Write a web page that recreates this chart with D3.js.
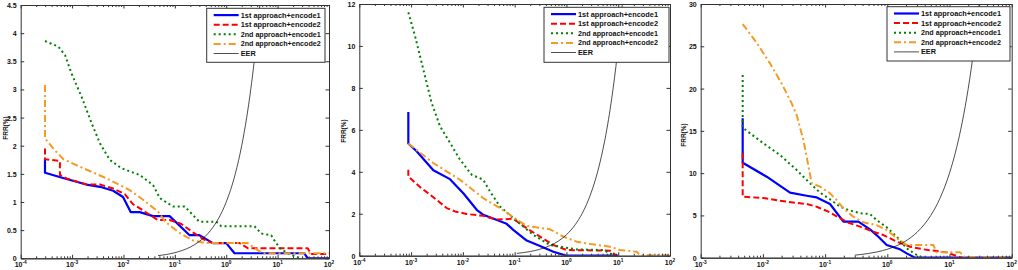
<!DOCTYPE html>
<html>
<head>
<meta charset="utf-8">
<script src="https://cdn.jsdelivr.net/npm/d3@7"></script>
<style>
  body { margin: 0; background: #fff; }
  svg { display: block; }
  text { font-family: "Liberation Sans", Arial, sans-serif; }
</style>
</head>
<body>
<svg id="chart" width="1018" height="270"></svg>
<script>
// legend labels
const seriesLabels = ["1st approach+encode1", "1st approach+encode2", "2nd approach+encode1", "2nd approach+encode2", "EER"];

// panel 1 (x: FAR, y: FRR %)
const p1Blue = [[2.97e-4,1.775],[2.97e-4,1.52],[7.8e-4,1.41],[1.9e-3,1.31],[3.5e-3,1.27],[6.3e-3,1.20],[9.8e-3,1.09],[0.0139,0.82],[0.0207,0.82],[0.0377,0.75],[0.079,0.75],[0.194,0.41],[0.30,0.41],[0.55,0.27],[1.0,0.27],[1.45,0.09],[33,0.09],[38.5,0],[100,0]];
const p1Red = [[2.97e-4,1.95],[2.97e-4,1.76],[5.8e-4,1.73],[5.8e-4,1.48],[7.8e-4,1.42],[1.9e-3,1.31],[3.5e-3,1.31],[6.3e-3,1.24],[0.0106,1.14],[0.0154,0.96],[0.0224,0.87],[0.0324,0.77],[0.047,0.68],[0.079,0.68],[0.134,0.61],[0.225,0.46],[0.41,0.31],[0.55,0.27],[1.82,0.27],[2.63,0.18],[38.5,0.18],[44.6,0.077],[100,0.077]];
const p1Green = [[2.97e-4,3.86],[5.4e-4,3.76],[7.3e-4,3.61],[9.8e-4,3.28],[1.53e-3,2.87],[2.4e-3,2.40],[3.5e-3,2.04],[5.4e-3,1.75],[9.1e-3,1.60],[0.0207,1.48],[0.0377,1.30],[0.051,1.07],[0.092,0.92],[0.155,0.92],[0.30,0.65],[0.64,0.65],[0.80,0.57],[3.55,0.57],[4.8,0.44],[7.5,0.41],[9.35,0.27],[11.7,0.16],[18.3,0.06],[28.6,0]];
const p1Orange = [[2.97e-4,3.08],[2.97e-4,2.13],[4.6e-4,1.92],[6.8e-4,1.76],[1.65e-3,1.60],[4.7e-3,1.42],[0.0133,1.21],[0.024,1.04],[0.047,0.83],[0.065,0.65],[0.12,0.46],[0.22,0.32],[0.4,0.27],[2.63,0.27],[3.55,0.18],[5.15,0.09],[100,0.09]];
const p1Eer = [[0.047,0.047],[0.1,0.1],[0.2,0.2],[0.3,0.3],[0.5,0.5],[0.7,0.7],[1,1],[1.5,1.5],[2,2],[2.5,2.5],[3,3],[3.5,3.5],[4,4],[4.5,4.5]];
const p1YTicks = [0, 0.5, 1, 1.5, 2, 2.5, 3, 3.5, 4, 4.5];

// panel 2
const p2Blue = [[8.85e-4,6.85],[8.85e-4,5.35],[1.28e-3,4.98],[2.69e-3,4.07],[5.64e-3,3.65],[0.0102,2.98],[0.0185,2.19],[0.0248,1.95],[0.070,1.52],[0.094,1.23],[0.171,0.72],[0.309,0.46],[0.56,0.19],[1.01,0],[10,0]];
const p2Red = [[8.85e-4,4.10],[8.85e-4,3.78],[1.49e-3,3.27],[2.69e-3,2.79],[4.87e-3,2.27],[7.05e-3,2.11],[0.0118,1.99],[0.0248,1.90],[0.045,1.72],[0.094,1.76],[0.171,1.31],[0.309,0.91],[0.56,0.51],[1.01,0.27],[6.95,0.24],[9.35,0]];
const p2Green = [[8.85e-4,11.6],[1.19e-3,10.48],[1.72e-3,8.89],[2.49e-3,7.29],[3.61e-3,6.18],[5.64e-3,5.38],[8.81e-3,4.58],[0.0148,3.86],[0.0248,3.62],[0.0334,3.06],[0.052,2.35],[0.094,1.79],[0.23,0.99],[0.48,0.51],[1.58,0.30],[5.16,0.27],[8.7,0]];
const p2Orange = [[8.85e-4,5.35],[2.69e-3,4.42],[8.81e-3,3.62],[0.0248,2.74],[0.052,2.27],[0.094,1.84],[0.171,1.42],[0.48,1.26],[0.87,0.91],[1.58,0.67],[2.86,0.56],[6.95,0.43],[10.8,0.27],[22.7,0.19],[26.4,0.02],[100,0.02]];
const p2Eer = [[0.11,0.11],[0.2,0.2],[0.3,0.3],[0.5,0.5],[0.7,0.7],[1,1],[1.5,1.5],[2,2],[3,3],[4,4],[5,5],[6,6],[7,7],[8,8],[9,9],[10,10],[11,11],[12,12]];
const p2YTicks = [0, 2, 4, 6, 8, 10, 12];

// panel 3
const p3Blue = [[4.73e-3,16.5],[4.73e-3,11.23],[0.0115,9.58],[0.0273,7.69],[0.0506,7.33],[0.0733,7.13],[0.12,6.35],[0.197,4.26],[0.343,4.26],[0.527,3.35],[0.718,2.48],[0.977,1.50],[1.6,0.99],[2.05,0.51],[2.79,0],[100,0]];
const p3Red = [[4.73e-3,12.34],[4.73e-3,7.21],[0.0102,7.06],[0.0242,6.62],[0.0506,6.35],[0.0733,6.03],[0.113,5.44],[0.163,4.77],[0.237,4.14],[0.364,3.67],[0.597,3.07],[0.866,2.68],[1.42,1.89],[2.32,1.30],[3.8,0.99],[9.0,0.63],[13.1,0.2],[15.7,0]];
const p3Green = [[4.73e-3,21.6],[4.73e-3,15.37],[0.0102,13.52],[0.0188,12.14],[0.0349,10.37],[0.0573,8.79],[0.083,7.69],[0.12,6.9],[0.174,6.03],[0.252,5.56],[0.388,5.24],[0.527,5.16],[0.675,4.45],[0.977,3.59],[1.42,2.48],[2.05,1.10],[2.97,0.32],[3.8,0]];
const p3Orange = [[4.73e-3,27.63],[7.94e-3,25.42],[0.013,22.98],[0.02,20.61],[0.029,18.25],[0.0349,16.87],[0.0448,13.91],[0.061,8.79],[0.083,8.4],[0.12,7.61],[0.153,6.82],[0.197,5.83],[0.284,4.85],[0.412,4.18],[0.675,3.86],[0.977,3.27],[1.5,2.17],[2.05,1.50],[5.5,1.5],[6.2,0.63],[14.8,0.63],[17.8,0.04],[100,0.04]];
const p3Eer = [[0.3,0.3],[0.5,0.5],[0.7,0.7],[1,1],[1.5,1.5],[2,2],[3,3],[4,4],[5,5],[7,7],[10,10],[13,13],[16,16],[20,20],[25,25],[30,30]];
const p3YTicks = [0, 5, 10, 15, 20, 25, 30];

// styles
const lineColors = ["#0000ff", "#ff0000", "#008000", "#f59a23", "#000000"];
const lineDash = [null, "6,3", "2,3", "7,3,2,3", null];
const lineWidths = [2.2, 2, 2, 2, 0.7];

const svg = d3.select("#chart");

const panels = [
    { id: 1, left: 20.7, right: 329, top: 5, bottom: 258.3, xDomain: [1e-4, 1e2], yDomain: [0, 4.5],
      yTicks: p1YTicks, series: [p1Blue, p1Red, p1Green, p1Orange, p1Eer],
      legend: { x: 206.7, y: 8.3, w: 118.3, h: 54 }, labelX: 7.5, labelY: 128 },
    { id: 2, left: 359.3, right: 670, top: 4, bottom: 255.7, xDomain: [1e-4, 1e2], yDomain: [0, 12],
      yTicks: p2YTicks, series: [p2Blue, p2Red, p2Green, p2Orange, p2Eer],
      legend: { x: 544, y: 7.3, w: 125, h: 55 }, labelX: 345.5, labelY: 131 },
    { id: 3, left: 700.7, right: 1011.7, top: 4, bottom: 257.7, xDomain: [1e-3, 1e2], yDomain: [0, 30],
      yTicks: p3YTicks, series: [p3Blue, p3Red, p3Green, p3Orange, p3Eer],
      legend: { x: 887, y: 6.7, w: 123, h: 54.3 }, labelX: 685.5, labelY: 135 }
];

panels.forEach(drawPanel);

function styleAxis(sel) {
    sel.select(".domain").attr("stroke", "#333");
    sel.selectAll(".tick line").attr("stroke", "#333");
    sel.attr("font-family", null).attr("font-size", null);
}

function drawPanel(cfg) {
    const g = svg.append("g");
    const x = d3.scaleLog().domain(cfg.xDomain).range([cfg.left, cfg.right]);
    const y = d3.scaleLinear().domain(cfg.yDomain).range([cfg.bottom, cfg.top]);

    const lo = Math.round(Math.log10(cfg.xDomain[0]));
    const hi = Math.round(Math.log10(cfg.xDomain[1]));
    const majors = d3.range(lo, hi + 1).map(e => Math.pow(10, e));
    const minors = d3.range(lo, hi).flatMap(e => d3.range(2, 10).map(k => k * Math.pow(10, e)));

    // clip for the curves
    g.append("clipPath").attr("id", "clip" + cfg.id)
        .append("rect")
        .attr("x", cfg.left).attr("y", cfg.top)
        .attr("width", cfg.right - cfg.left).attr("height", cfg.bottom - cfg.top);

    // curves
    const line = d3.line().x(d => x(d[0])).y(d => y(d[1]));
    const eerLine = d3.line().x(d => x(d[0])).y(d => y(d[1])).curve(d3.curveMonotoneX);
    const curves = g.append("g").attr("clip-path", `url(#clip${cfg.id})`);
    cfg.series.forEach((data, i) => {
        curves.append("path")
            .datum(data)
            .attr("d", i === 4 ? eerLine : line)
            .attr("fill", "none")
            .attr("stroke", lineColors[i])
            .attr("stroke-width", lineWidths[i])
            .attr("stroke-dasharray", lineDash[i])
            .attr("stroke-linejoin", "round");
    });

    // axes (ticks point inward on all four sides)
    const bottom = g.append("g").attr("transform", `translate(0,${cfg.bottom})`)
        .call(d3.axisBottom(x).tickValues(majors).tickSize(-3.5).tickSizeOuter(0).tickFormat(() => ""));
    bottom.selectAll(".tick text").remove();
    styleAxis(bottom);
    const bottomMinor = g.append("g").attr("transform", `translate(0,${cfg.bottom})`)
        .call(d3.axisBottom(x).tickValues(minors).tickSize(-2).tickSizeOuter(0).tickFormat(() => ""));
    bottomMinor.selectAll(".tick text").remove();
    styleAxis(bottomMinor);

    const top = g.append("g").attr("transform", `translate(0,${cfg.top})`)
        .call(d3.axisTop(x).tickValues(majors).tickSize(-3.5).tickSizeOuter(0).tickFormat(() => ""));
    top.selectAll(".tick text").remove();
    styleAxis(top);
    const topMinor = g.append("g").attr("transform", `translate(0,${cfg.top})`)
        .call(d3.axisTop(x).tickValues(minors).tickSize(-2).tickSizeOuter(0).tickFormat(() => ""));
    topMinor.selectAll(".tick text").remove();
    styleAxis(topMinor);

    const left = g.append("g").attr("transform", `translate(${cfg.left},0)`)
        .call(d3.axisLeft(y).tickValues(cfg.yTicks).tickSize(-3.5).tickSizeOuter(0).tickPadding(4).tickFormat(d => String(d)));
    styleAxis(left);
    left.selectAll(".tick text")
        .attr("font-size", 7).attr("font-weight", "bold").attr("fill", "#111")
        .attr("dy", "0.35em");

    const right = g.append("g").attr("transform", `translate(${cfg.right},0)`)
        .call(d3.axisRight(y).tickValues(cfg.yTicks).tickSize(-3.5).tickSizeOuter(0).tickFormat(() => ""));
    right.selectAll(".tick text").remove();
    styleAxis(right);

    // x tick labels: 10 with superscript exponent
    majors.forEach(v => {
        const t = g.append("text")
            .attr("x", x(v))
            .attr("y", cfg.bottom + 9)
            .attr("text-anchor", "middle")
            .attr("font-size", 7)
            .attr("font-weight", "bold")
            .attr("fill", "#111");
        t.append("tspan").text("10");
        t.append("tspan").attr("dy", -3.2).attr("font-size", 4.8).text(String(Math.round(Math.log10(v))));
    });

    // y label
    g.append("text")
        .attr("transform", `translate(${cfg.labelX},${cfg.labelY}) rotate(-90)`)
        .attr("text-anchor", "middle")
        .attr("font-size", 6.5)
        .attr("font-weight", "bold")
        .attr("fill", "#111")
        .text("FRR(%)");

    // legend
    const lg = g.append("g").attr("transform", `translate(${cfg.legend.x},${cfg.legend.y})`);
    lg.append("rect")
        .attr("width", cfg.legend.w).attr("height", cfg.legend.h)
        .attr("fill", "#fff").attr("stroke", "#333").attr("stroke-width", 1);
    seriesLabels.forEach((label, i) => {
        const cy = 6.8 + i * 9.6;
        lg.append("line")
            .attr("x1", 7).attr("x2", 32).attr("y1", cy).attr("y2", cy)
            .attr("stroke", lineColors[i])
            .attr("stroke-width", lineWidths[i])
            .attr("stroke-dasharray", lineDash[i]);
        lg.append("text")
            .attr("x", 34).attr("y", cy).attr("dy", "0.35em")
            .attr("font-size", 7)
            .attr("font-weight", "bold")
            .attr("fill", "#111")
            .attr("textLength", i === 4 ? 15 : 80)
            .attr("lengthAdjust", "spacingAndGlyphs")
            .text(label);
    });
}
</script>
</body>
</html>
